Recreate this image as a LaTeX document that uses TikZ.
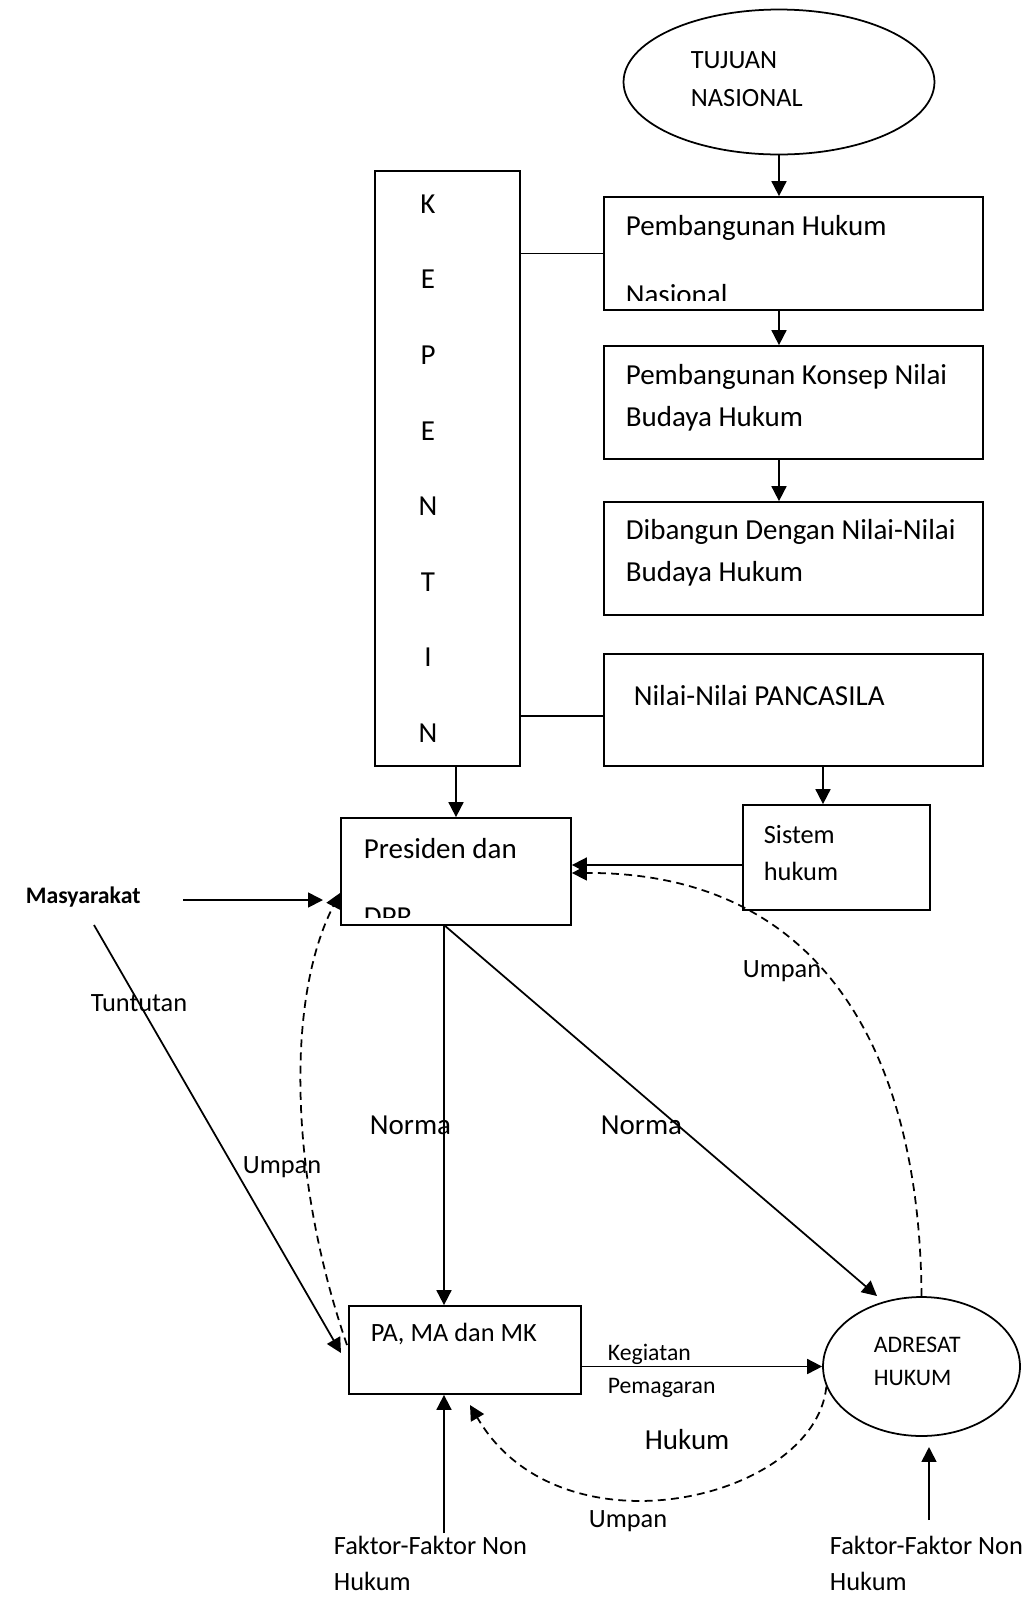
\documentclass[tikz,border=0pt]{standalone}
\usepackage{fontspec}
\setmainfont{Carlito}
\usetikzlibrary{arrows.meta,shapes.geometric,fit}

\begin{document}
\begin{tikzpicture}[x=0.02cm, y=-0.02cm, line width=1pt,
  box/.style={draw, inner sep=0pt, fit={#1}},
  oval/.style={draw, ellipse, inner sep=0pt},
  arr/.style={-{Triangle[length=8.5pt,width=8.5pt]}},
  umpan/.style={arr, dash pattern=on 4.5pt off 3pt},
  txtbig/.style={font=\fontsize{16.5}{24}\selectfont, inner sep=0pt, anchor=west, align=left},
  txtmid/.style={font=\fontsize{15}{21.5}\selectfont, inner sep=0pt, anchor=west, align=left},
  txtsmall/.style={font=\fontsize{13.5}{18.7}\selectfont, inner sep=0pt, anchor=west, align=left}]

\useasboundingbox (0,0) rectangle (1034,1597);

% the goal on top
\node[oval, minimum width=6.22cm, minimum height=2.9cm] (tujuan) at (779,82) {};
\node[txtmid] (tujuantxt) at (690,79) {TUJUAN\\NASIONAL};

% the column of boxes on the right
\node[box={(604,197) (983,310)}] (hukum) {};
\node[txtbig] (hukumtxt) at (625,228) {Pembangunan Hukum};
\begin{scope}
  \clip (604,197) rectangle (983,300.5);
  \node[txtbig] (nasionaltxt) at (625,295) {Nasional};
\end{scope}
\node[box={(604,346) (983,459)}] (konsep) {};
\node[txtbig] (konseptxt) at (625,398) {Pembangunan Konsep Nilai\\Budaya Hukum};
\node[box={(604,502) (983,615)}] (budaya) {};
\node[txtbig] (budayatxt) at (625,553) {Dibangun Dengan Nilai-Nilai\\Budaya Hukum};
\node[box={(604,654) (983,766)}] (pancasila) {};
\node[txtbig] (pancasilatxt) at (633,696) {Nilai-Nilai PANCASILA};

% the tall box with the letters
\node[box={(375,171) (520,766)}] (kep) {};
\foreach \l [count=\i] in {K,E,P,E,N,T,I,N}
  \node[font=\fontsize{16.5}{20}\selectfont, inner sep=0pt] (k\i) at (428,{204+75.6*(\i-1)}) {\l};

% middle boxes
\node[box={(341,818) (571,925)}] (presiden) {};
\node[txtbig] (presidentxt) at (363,849) {Presiden dan};
\begin{scope}
  \clip (341,818) rectangle (571,917);
  \node[txtbig] (dprtxt) at (363,917) {DPR};
\end{scope}
\node[box={(743,805) (930,910)}] (sistem) {};
\node[txtmid] (sistemtxt) at (763,853) {Sistem\\hukum};

% bottom boxes
\node[box={(349,1306) (581,1394)}] (pama) {};
\node[txtmid] (pamatxt) at (370,1334) {PA, MA dan MK};
\node[oval, minimum width=3.94cm, minimum height=2.78cm] (adresat) at (921.5,1366.5) {};
\node[txtsmall] (adresattxt) at (873,1361) {ADRESAT\\HUKUM};

% free ends
\coordinate (m1) at (183,900);
\coordinate (m2) at (323,900);
\coordinate (t1) at (94,925);
\coordinate (t2) at (341,1353);
\coordinate (p1) at (444,925);
\coordinate (a1) at (877,1296);
\coordinate (ps) at (823,766);
\coordinate (f1) at (444,1533);
\coordinate (f2) at (929,1520);
\coordinate (f3) at (929,1447);
\coordinate (u1) at (347,1345);
\coordinate (u2) at (340,893);
\coordinate (u3) at (470,1405);

% connectors
\draw[arr] (tujuan.south) -- (tujuan.south |- hukum.north);
\draw[arr] (hukum.south -| tujuan.south) -- (konsep.north -| tujuan.south);
\draw[arr] (konsep.south -| tujuan.south) -- (budaya.north -| tujuan.south);
\draw (kep.east |- hukum.west) -- (hukum.west);
\draw (kep.east |- 0,716) -- (pancasila.west |- 0,716);
\draw[arr] (presiden.north |- kep.south) -- (presiden.north);
\draw[arr] (ps) -- (ps |- sistem.north);
\draw[arr] (sistem.west |- 0,865) -- (presiden.east |- 0,865);
\draw[arr] (m1) -- (m2);
\draw[arr] (t1) -- (t2);
\draw[arr] (p1) -- (p1 |- pama.north);
\draw[arr] (p1) -- (a1);
\draw[arr] (pama.east |- adresat.west) -- (adresat.west);
\draw[arr] (f1) -- (f1 |- pama.south);
\draw[arr] (f2) -- (f3);

% the dashed ones
\draw[umpan] (u1) .. controls (290,1180) and (285,1000) .. (u2);
\draw[umpan] (adresat.north) .. controls (920,1050) and (820,872) .. (presiden.east |- 0,873);
\draw[umpan] (adresat.192) .. controls (815,1500) and (560,1560) .. (u3);

% labels
\node[txtsmall, font=\fontsize{13.5}{18.7}\selectfont\bfseries] (masy) at (25,897) {Masyarakat};
\node[txtmid] (tuntutan) at (90,1003) {Tuntutan};
\node[txtmid] (umpan1) at (242,1167) {Umpan};
\node[txtmid] (umpan2) at (742,971) {Umpan};
\node[txtmid] (umpan3) at (588,1521) {Umpan};
\node[txtbig] (norma1) at (369,1125) {Norma};
\node[txtbig] (norma2) at (600,1125) {Norma};
\node[txtsmall] (kegiatan) at (607,1371) {Kegiatan\\Pemagaran};
\node[txtbig] (hukumlbl) at (644,1440) {Hukum};
\node[txtmid, font=\fontsize{15}{20.5}\selectfont] (faktor1) at (333,1563) {Faktor-Faktor Non\\Hukum};
\node[txtmid, font=\fontsize{15}{20.5}\selectfont] (faktor2) at (829,1563) {Faktor-Faktor Non\\Hukum};

\end{tikzpicture}
\end{document}
